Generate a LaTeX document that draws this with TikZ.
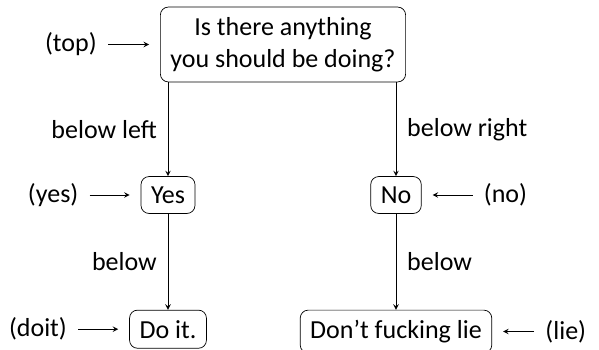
\documentclass[tikz,border=0pt]{standalone}
\usepackage{fontspec}
\setmainfont{Carlito}
\usepackage{tikz}
\usetikzlibrary{arrows,positioning}

\begin{document}
\begin{tikzpicture}[
    every node/.style={font=\fontsize{14.8pt}{18.4pt}\selectfont},
    box/.style={draw, rounded corners=4.5pt, inner sep=0.2cm, align=center},
    tag/.style={inner sep=0.22cm},
    arrow/.style={->, >=stealth},
    pointer/.style={->, >=stealth, shorten >=0.22cm}
]
    \useasboundingbox (0,0) rectangle (11.98,-6.98);

    \node[box] (top) at (5.66,-0.89) {Is there anything\\you should be doing?};
    \node[box] (yes) at (3.36,-3.9) {Yes};
    \node[box] (no) at (7.92,-3.9) {No};
    \node[box, below=1.92cm of yes] (doit) {Do it.};
    \node[box, below=1.92cm of no] (lie) {Don't fucking lie};

    % Placement arrows
    \draw[arrow] (top.south -| yes) -- node[left=0.1cm] {below left} (yes);
    \draw[arrow] (top.south -| no) -- node[right=0.1cm] {below right} (no);
    \draw[arrow] (yes) -- node[left=0.1cm] {below} (doit);
    \draw[arrow] (no) -- node[right=0.1cm] {below} (lie);

    % Name tags
    \node[tag, left=1.04cm of top] (toptag) {(top)};
    \node[tag, left=1.02cm of yes] (yestag) {(yes)};
    \node[tag, left=1.02cm of doit] (doittag) {(doit)};
    \node[tag, right=1.02cm of no] (notag) {(no)};
    \node[tag, right=0.84cm of lie] (lietag) {(lie)};

    \draw[pointer] (toptag) -- (top);
    \draw[pointer] (yestag) -- (yes);
    \draw[pointer] (doittag) -- (doit);
    \draw[pointer] (notag) -- (no);
    \draw[pointer] (lietag) -- (lie);
\end{tikzpicture}
\end{document}
